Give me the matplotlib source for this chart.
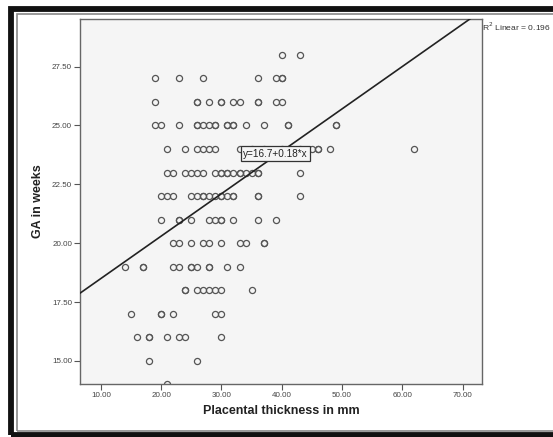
import matplotlib
matplotlib.use('Agg')
from matplotlib import pyplot as plt
from matplotlib.patches import Rectangle
import numpy as np

plt.rcParams['font.family'] = ['Liberation Sans', 'DejaVu Sans']

# placental thickness (mm) for each gestational age row (weeks)
ga_28 = [40, 43]
ga_27 = [19, 23, 27, 36, 39, 40, 40]
ga_26 = [19, 26, 26, 28, 30, 30, 32, 33, 36, 36, 39, 40]
ga_25 = [19, 20, 23, 26, 26, 27, 28, 29, 29, 31, 31, 32, 32, 34, 37, 41, 41, 49, 49]
ga_24 = [21, 24, 26, 27, 28, 29, 33, 35, 37, 40, 43, 45, 46, 46, 48, 62]
ga_23 = [21, 22, 24, 25, 26, 27, 29, 30, 30, 31, 31, 32, 33, 33, 34, 35, 36, 36, 43]
ga_22 = [20, 21, 22, 25, 26, 27, 27, 28, 29, 30, 30, 31, 32, 32, 36, 36, 43]
ga_21 = [20, 23, 23, 25, 28, 29, 30, 30, 32, 36, 39]
ga_20 = [22, 23, 25, 27, 28, 30, 33, 34, 37, 37]
ga_19 = [14, 17, 17, 22, 23, 25, 25, 26, 28, 28, 31, 33]
ga_18 = [24, 24, 26, 27, 28, 29, 30, 35]
ga_17 = [15, 20, 20, 22, 29, 30]
ga_16 = [16, 18, 18, 21, 23, 24, 30]
ga_15 = [18, 26]
ga_14 = [21]

rows = {28: ga_28, 27: ga_27, 26: ga_26, 25: ga_25, 24: ga_24, 23: ga_23,
        22: ga_22, 21: ga_21, 20: ga_20, 19: ga_19, 18: ga_18, 17: ga_17,
        16: ga_16, 15: ga_15, 14: ga_14}

intercept = 16.7
slope = 0.18
r2 = 0.196

x_ticks = [10, 20, 30, 40, 50, 60, 70]
y_ticks = [15, 17.5, 20, 22.5, 25, 27.5]

x = []
y = []
for ga, thick in rows.items():
    x += thick
    y += [ga] * len(thick)

fig = plt.figure(figsize=(5.53, 4.37), dpi=100)

# outer double frame
fig.patches.append(Rectangle((11 / 553, 2 / 437), 1.0, 426 / 437, transform=fig.transFigure,
                             fill=False, edgecolor='#111111', linewidth=4.2))
fig.patches.append(Rectangle((16.5 / 553, 6 / 437), 1.0, 417 / 437, transform=fig.transFigure,
                             fill=False, edgecolor='#888888', linewidth=1.2))

ax = fig.add_axes([80.4 / 553, 1 - 384 / 437, 402 / 553, 365 / 437])
ax.set_facecolor('#f5f5f5')

ax.plot(x, y, 'o', markersize=4.4, markerfacecolor='none', markeredgecolor='#555555',
        markeredgewidth=0.9, zorder=2)

ax.set_xlim(6.6, 73.3)
ax.set_ylim(14.02, 29.52)

xs = np.array(ax.get_xlim())
ax.plot(xs, intercept + slope * xs, color='#222222', linewidth=1.2, zorder=3)

ax.text(39.0, 23.8, 'y=16.7+0.18*x', fontsize=7.2, color='#222222', ha='center', va='center',
        zorder=4, bbox=dict(boxstyle='square,pad=0.25', facecolor='#f5f5f5',
                            edgecolor='#333333', linewidth=0.9))

ax.set_xticks(x_ticks)
ax.set_xticklabels(['%.2f' % t for t in x_ticks])
ax.set_yticks(y_ticks)
ax.set_yticklabels(['%.2f' % t for t in y_ticks])
ax.tick_params(labelsize=5.8, labelcolor='#444444', color='#555555', length=4, width=0.8, pad=2)

for s in ax.spines.values():
    s.set_color('#666666')
    s.set_linewidth(1.0)

ax.set_xlabel('Placental thickness in mm', fontsize=9, fontweight='bold', color='#222222', labelpad=4)
ax.set_ylabel('GA in weeks', fontsize=9, fontweight='bold', color='#222222', labelpad=6)

fig.text(482 / 553, 1 - 27 / 437, 'R$^2$ Linear = %.3f' % r2, fontsize=6.1, color='#333333',
         ha='left', va='center')

fig.savefig('out.png', dpi=100)
